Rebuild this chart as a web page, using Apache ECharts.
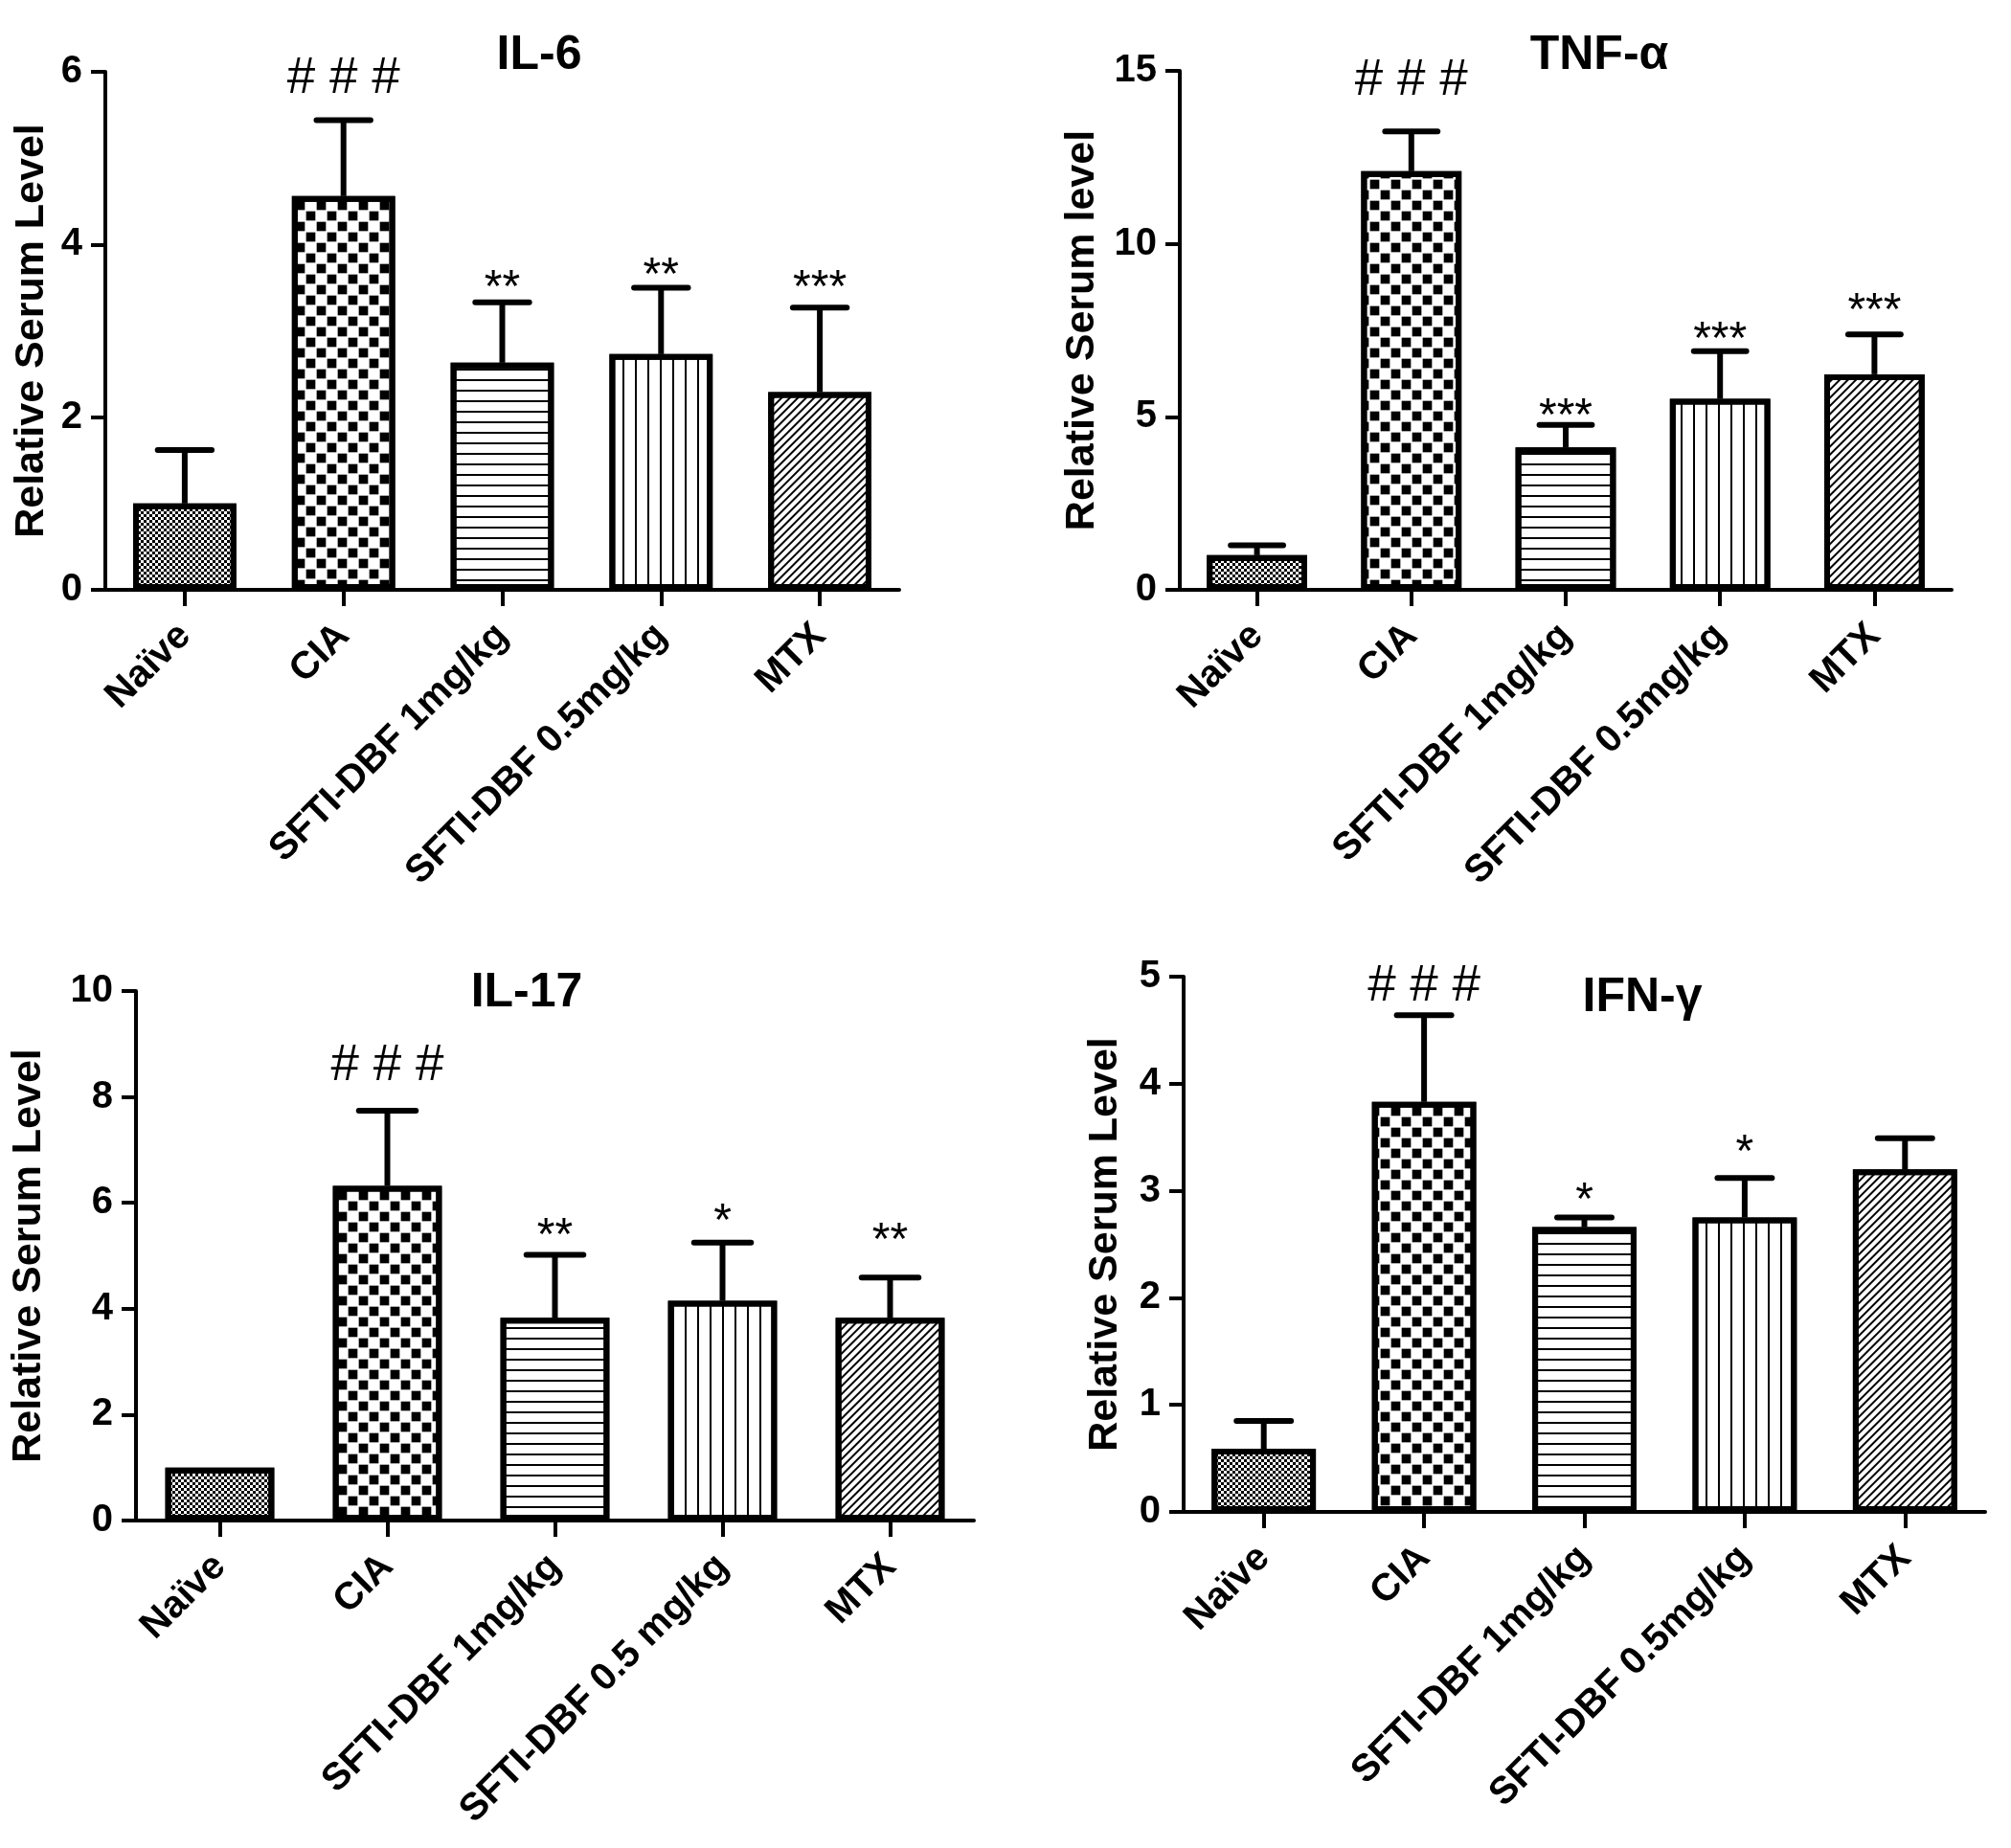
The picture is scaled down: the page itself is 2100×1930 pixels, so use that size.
<!DOCTYPE html>
<html>
<head>
<meta charset="utf-8">
<script src="https://cdn.jsdelivr.net/npm/echarts/dist/echarts.min.js"></script>
<style>
html,body{margin:0;padding:0;background:#ffffff;}
#chart{width:2100px;height:1930px;}
</style>
</head>
<body>
<div id="chart"></div>
<script>
// ---------------- data ----------------
const categoriesStd = ['Naïve', 'CIA', 'SFTI-DBF 1mg/kg', 'SFTI-DBF 0.5mg/kg', 'MTX'];
const categoriesIL17 = ['Naïve', 'CIA', 'SFTI-DBF 1mg/kg', 'SFTI-DBF 0.5 mg/kg', 'MTX'];

const il6Mean = [1.0, 4.56, 2.63, 2.73, 2.29];
const il6Sem = [0.62, 0.88, 0.70, 0.77, 0.98];
const il6Marks = ['', '# # #', '**', '**', '***'];
const il6MarkY = [null, 5.92, 3.61, 3.75, 3.61];

const tnfMean = [1.0, 12.1, 4.12, 5.52, 6.23];
const tnfSem = [0.29, 1.15, 0.65, 1.38, 1.15];
const tnfMarks = ['', '# # #', '***', '***', '***'];
const tnfMarkY = [null, 14.7, 5.28, 7.51, 8.34];

const il17Mean = [1.0, 6.32, 3.83, 4.15, 3.83];
const il17Sem = [0, 1.42, 1.19, 1.10, 0.76];
const il17Marks = ['', '# # #', '**', '*', '**'];
const il17MarkY = [null, 8.59, 5.55, 5.82, 5.46];

const ifnMean = [0.59, 3.83, 2.66, 2.75, 3.20];
const ifnSem = [0.26, 0.81, 0.09, 0.37, 0.29];
const ifnMarks = ['', '# # #', '*', '*', ''];
const ifnMarkY = [null, 4.91, 3.0, 3.45, null];

const titles = ['IL-6', 'TNF-α', 'IL-17', 'IFN-γ'];
const yNames = ['Relative Serum Level', 'Relative Serum level', 'Relative Serum Level', 'Relative Serum Level'];
const yMax = [6, 15, 10, 5];
const yInterval = [2, 5, 2, 1];

// ---------------- styles / layout ----------------
const FONT = '"Liberation Sans", Arial, Helvetica, sans-serif';
const grids = [
  {left: 110, top: 75, width: 829, height: 541},
  {left: 1232, top: 74, width: 806, height: 542},
  {left: 142, top: 1035, width: 875, height: 553},
  {left: 1236, top: 1020, width: 837, height: 559}
];
const nameGaps = [55, 80, 90, 60];
const titlePos = [
  {left: 558, top: 28},
  {left: 1665, top: 28},
  {left: 545, top: 1007},
  {left: 1710, top: 1012}
];

const decals = [
  {symbol: 'rect', symbolSize: 1, dashArrayX: [[3, 3], [0, 3, 3, 0]], dashArrayY: [3, 0], color: '#000'},
  {symbol: 'rect', symbolSize: 0.88, dashArrayX: [[11, 11], [0, 11, 11, 0]], dashArrayY: [11, 0], color: '#000'},
  {symbol: 'rect', symbolSize: 1, dashArrayX: [1, 0], dashArrayY: [2, 9], color: '#000'},
  {symbol: 'rect', symbolSize: 1, dashArrayX: [2, 11], dashArrayY: [1, 0], color: '#000'},
  {symbol: 'rect', symbolSize: 1, dashArrayX: [1, 0], dashArrayY: [2, 4], rotation: -Math.PI / 4, color: '#000'}
];

const panels = [
  {cats: categoriesStd, mean: il6Mean, sem: il6Sem, marks: il6Marks, markY: il6MarkY},
  {cats: categoriesStd, mean: tnfMean, sem: tnfSem, marks: tnfMarks, markY: tnfMarkY},
  {cats: categoriesIL17, mean: il17Mean, sem: il17Sem, marks: il17Marks, markY: il17MarkY},
  {cats: categoriesStd, mean: ifnMean, sem: ifnSem, marks: ifnMarks, markY: ifnMarkY}
];

function makeRender(panel) {
  return function (params, api) {
    const i = api.value(0);
    const m = api.value(1);
    const t = api.value(2);
    const base = api.coord([i, m]);
    const top = api.coord([i, t]);
    const band = api.size([1, 0])[0];
    const capHalf = band * 0.17;
    const children = [];
    if (t > m + 1e-9) {
      children.push({
        type: 'line',
        shape: {x1: base[0], y1: base[1], x2: top[0], y2: top[1]},
        style: {stroke: '#000', lineWidth: 6}
      });
      children.push({
        type: 'line',
        shape: {x1: top[0] - capHalf, y1: top[1], x2: top[0] + capHalf, y2: top[1]},
        style: {stroke: '#000', lineWidth: 6, lineCap: 'round'}
      });
    }
    const mark = panel.marks[params.dataIndex];
    const my = panel.markY[params.dataIndex];
    if (mark && my != null) {
      const p = api.coord([i, my]);
      const isHash = mark.indexOf('#') >= 0;
      children.push({
        type: 'text',
        x: p[0],
        y: p[1] + (isHash ? 0 : 11),
        style: {
          text: mark,
          fill: '#000',
          font: (isHash ? '53px ' : '48px ') + FONT,
          align: 'center',
          verticalAlign: 'middle'
        }
      });
    }
    return {type: 'group', children: children};
  };
}

const option = {
  backgroundColor: '#ffffff',
  animation: false,
  title: titles.map((t, k) => ({
    text: t,
    left: titlePos[k].left,
    top: titlePos[k].top,
    textAlign: 'center',
    textStyle: {fontFamily: FONT, fontSize: 50, fontWeight: 'bold', color: '#000'}
  })),
  grid: grids,
  xAxis: panels.map((p, k) => ({
    type: 'category',
    gridIndex: k,
    data: p.cats,
    axisLine: {show: true, lineStyle: {color: '#000', width: 4}},
    axisTick: {show: true, alignWithLabel: true, length: 17, lineStyle: {color: '#000', width: 4}},
    axisLabel: {
      interval: 0, rotate: 45, margin: 42, color: '#000',
      fontFamily: FONT, fontSize: 40, fontWeight: 'bold'
    },
    splitLine: {show: false}
  })),
  yAxis: panels.map((p, k) => ({
    type: 'value',
    gridIndex: k,
    min: 0,
    max: yMax[k],
    interval: yInterval[k],
    name: yNames[k],
    nameLocation: 'middle',
    nameGap: nameGaps[k],
    nameTextStyle: {fontFamily: FONT, fontSize: 43, fontWeight: 'bold', color: '#000'},
    axisLine: {show: true, lineStyle: {color: '#000', width: 4}},
    axisTick: {show: true, length: 15, lineStyle: {color: '#000', width: 4}},
    axisLabel: {margin: 24, color: '#000', fontFamily: FONT, fontSize: 40, fontWeight: 'bold'},
    splitLine: {show: false}
  })),
  series: []
};

panels.forEach((p, k) => {
  option.series.push({
    type: 'bar',
    xAxisIndex: k,
    yAxisIndex: k,
    barWidth: '65%',
    data: p.mean.map((v, i) => ({
      value: v,
      itemStyle: {color: '#ffffff', borderColor: '#000', borderWidth: 6, decal: decals[i]}
    })),
    z: 2
  });
  option.series.push({
    type: 'custom',
    xAxisIndex: k,
    yAxisIndex: k,
    renderItem: makeRender(p),
    data: p.mean.map((v, i) => [i, v, v + p.sem[i]]),
    z: 3
  });
});

const chart = echarts.init(document.getElementById('chart'), null, {renderer: 'canvas'});
chart.setOption(option);
</script>
</body>
</html>
